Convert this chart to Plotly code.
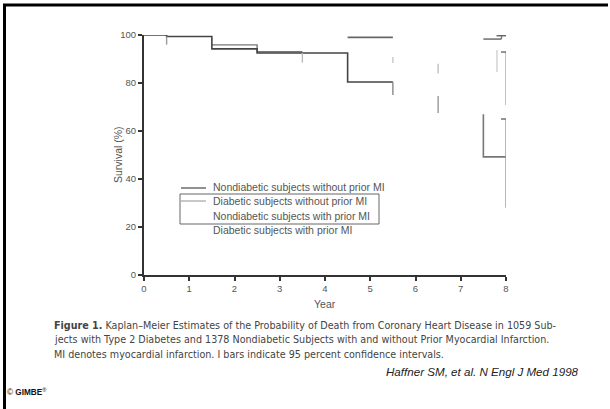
import plotly.graph_objects as go

W, H = 610, 409

# ---- data ----
# Kaplan-Meier step segments (year, survival %)
line_a_years = [0, 0.5, 1.5, 2.5, 4.5, 5.5]
line_a_surv = [100, 99.4, 94.2, 92.5, 80.4, 80.4]
line_b_years = [1.5, 2.5, 3.5]
line_b_surv = [95.9, 93.0, 93.0]
line_c_years = [4.5, 5.5]
line_c_surv = [99.0, 99.0]
line_c2_years = [7.5, 7.9]
line_c2_surv = [98.3, 98.3]
line_d_years = [7.5, 7.5, 8.0]
line_d_surv = [67.0, 49.2, 49.2]

# confidence-interval bars: year, low, high, has cap, colour group
ci_years = [0.5, 3.5, 5.5, 5.5, 6.5, 6.5, 7.8, 8.0, 8.0, 7.9]
ci_low = [96.0, 88.5, 88.3, 75.0, 84.0, 67.5, 84.6, 70.8, 28.0, 98.3]
ci_high = [99.4, 92.5, 90.8, 80.4, 88.0, 74.6, 93.7, 92.9, 65.0, 99.7]
ci_cap = [False, False, False, False, False, False, False, True, True, True]
ci_col = ["#999999", "#bbbbbb", "#c8c8c8", "#888888", "#c0c0c0", "#999999",
          "#d0d0d0", "#aaaaaa", "#999999", "#777777"]

x_ticks = [0, 1, 2, 3, 4, 5, 6, 7, 8]
y_ticks = [0, 20, 40, 60, 80, 100]

legend_labels = ["Nondiabetic subjects without prior MI",
                 "Diabetic subjects without prior MI",
                 "Nondiabetic subjects with prior MI",
                 "Diabetic subjects with prior MI"]

caption_lines = [
    "<b>Figure 1.</b> Kaplan\u2013Meier Estimates of the Probability of Death from Coronary Heart Disease in 1059 Sub-",
    "jects with Type 2 Diabetes and 1378 Nondiabetic Subjects with and without Prior Myocardial Infarction.",
    "MI denotes myocardial infarction. I bars indicate 95 percent confidence intervals.",
]

# ---- figure ----
fig = go.Figure()

def add_line(xs, ys, color, width=1.6, shape="hv"):
    fig.add_trace(go.Scatter(x=xs, y=ys, mode="lines", line=dict(color=color, width=width, shape=shape),
                             cliponaxis=False, showlegend=False, hoverinfo="skip"))

add_line(line_b_years, line_b_surv, "#777777", 1.4)
add_line(line_a_years, line_a_surv, "#444444", 1.6)
add_line(line_c_years, line_c_surv, "#666666", 1.6)
add_line(line_c2_years, line_c2_surv, "#777777", 1.6)
add_line(line_d_years, line_d_surv, "#777777", 1.6, "linear")

for x, lo, hi, cap, col in zip(ci_years, ci_low, ci_high, ci_cap, ci_col):
    fig.add_trace(go.Scatter(x=[x, x], y=[lo, hi], mode="lines", line=dict(color=col, width=1.4),
                             cliponaxis=False, showlegend=False, hoverinfo="skip"))
    if cap:
        fig.add_trace(go.Scatter(x=[x - 0.11, x + 0.11], y=[hi, hi], mode="lines",
                                 line=dict(color="#666666", width=1.4),
                                 cliponaxis=False, showlegend=False, hoverinfo="skip"))

def px(x):
    return x / W

def py(y):
    return 1 - y / H

font_fam = "Liberation Sans, Arial, sans-serif"
cap_fam = "DejaVu Sans, sans-serif"

fig.update_layout(
    width=W, height=H,
    margin=dict(l=0, r=0, t=0, b=0, autoexpand=False),
    paper_bgcolor="white", plot_bgcolor="white",
    showlegend=False,
    xaxis=dict(domain=[px(144), px(506)], range=[0, 8], tickvals=x_ticks, automargin=False,
               showline=True, linecolor="#333333", linewidth=2, ticks="outside",
               ticklen=4, tickwidth=1.5, tickcolor="#333333", showgrid=False, zeroline=False,
               tickfont=dict(family=font_fam, size=9.5, color="#555555"), fixedrange=True),
    yaxis=dict(domain=[py(275), py(35)], range=[0, 100], tickvals=y_ticks, automargin=False,
               showline=True, linecolor="#333333", linewidth=2, ticks="outside",
               ticklen=4, tickwidth=1.5, tickcolor="#333333", showgrid=False, zeroline=False,
               tickfont=dict(family=font_fam, size=9.5, color="#555555"), fixedrange=True),
)

shapes = [
    # frame
    dict(type="line", xref="paper", yref="paper", x0=px(3), x1=px(608), y0=py(5), y1=py(5),
         line=dict(color="black", width=3)),
    dict(type="line", xref="paper", yref="paper", x0=px(4.5), x1=px(4.5), y0=py(4), y1=py(409),
         line=dict(color="black", width=3)),
    # legend samples and box
    dict(type="line", xref="paper", yref="paper", x0=px(181), x1=px(206), y0=py(188), y1=py(188),
         line=dict(color="#555555", width=1.3)),
    dict(type="line", xref="paper", yref="paper", x0=px(181), x1=px(206), y0=py(201), y1=py(201),
         line=dict(color="#aaaaaa", width=1.3)),
    dict(type="rect", xref="paper", yref="paper", x0=px(180), x1=px(379), y0=py(194), y1=py(224),
         line=dict(color="#666666", width=1)),
]
fig.update_layout(shapes=shapes)

ann = []
for i, lab in enumerate(legend_labels):
    ann.append(dict(x=px(211), y=py(187 + i * 14.3), xref="paper", yref="paper", text=lab,
                    showarrow=False, xanchor="left", yanchor="middle",
                    font=dict(family=font_fam, size=10.5, color="#555555")))
ann.append(dict(x=px(118), y=py(155), xref="paper", yref="paper", text="Survival (%)",
                showarrow=False, textangle=-90, xanchor="center", yanchor="middle",
                font=dict(family=font_fam, size=10.5, color="#555555")))
ann.append(dict(x=px(325), y=py(304), xref="paper", yref="paper", text="Year",
                showarrow=False, xanchor="center", yanchor="middle",
                font=dict(family=font_fam, size=10.5, color="#555555")))
for i, line in enumerate(caption_lines):
    ann.append(dict(x=px(52), y=py(325 + i * 14.5), xref="paper", yref="paper", text=line,
                    showarrow=False, xanchor="left", yanchor="middle",
                    font=dict(family=cap_fam, size=9.6, color="#444444")))
ann.append(dict(x=px(581), y=py(371), xref="paper", yref="paper",
                text="<i>Haffner SM, et al. N Engl J Med 1998</i>",
                showarrow=False, xanchor="right", yanchor="middle",
                font=dict(family=font_fam, size=11.6, color="#222222")))
ann.append(dict(x=px(5), y=py(392), xref="paper", yref="paper",
                text="© <b>GIMBE</b><sup>®</sup>",
                showarrow=False, xanchor="left", yanchor="middle",
                font=dict(family=font_fam, size=8.2, color="#111111")))
fig.update_layout(annotations=ann)

fig.write_html("out.html", config={"displayModeBar": False},
               post_script="document.body.style.margin='0';document.body.style.overflow='hidden';")
